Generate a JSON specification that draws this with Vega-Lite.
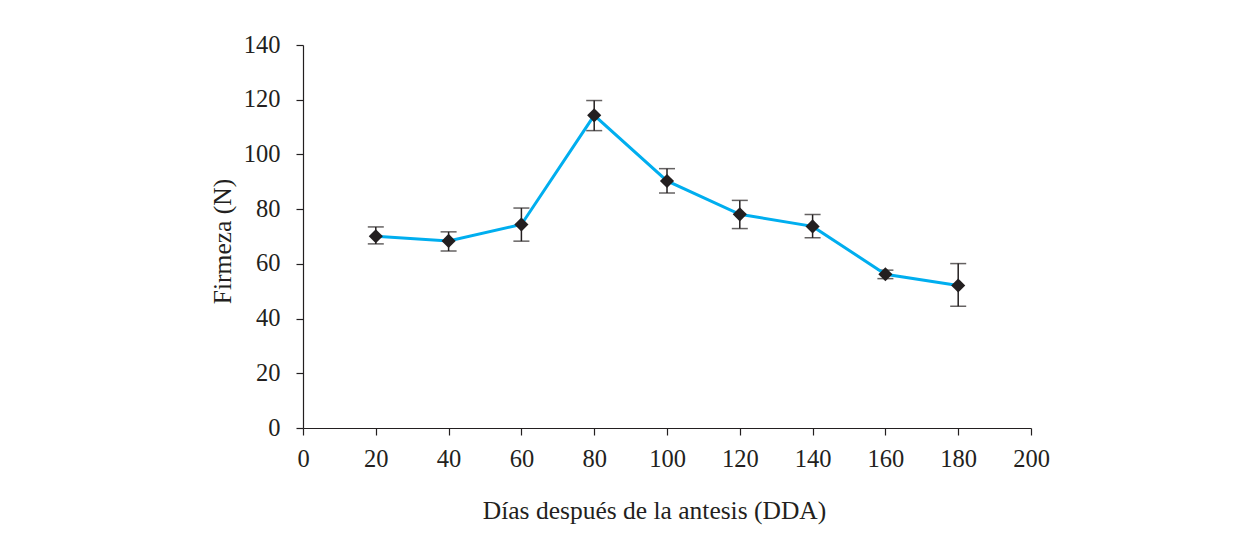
{
  "$schema": "https://vega.github.io/schema/vega-lite/v6.json",
  "width": 728,
  "height": 383,
  "autosize": {"type": "none"},
  "padding": {"left": 303, "top": 45, "right": 219, "bottom": 119},
  "background": "white",
  "config": {
    "view": {"stroke": null},
    "font": "Liberation Serif",
    "axis": {
      "grid": false,
      "domainColor": "#231f20",
      "domainWidth": 1.2,
      "tickColor": "#231f20",
      "tickWidth": 1.2,
      "tickSize": 7,
      "labelFlush": false,
      "labelOverlap": false,
      "labelFont": "Liberation Serif",
      "labelFontSize": 24.5,
      "labelColor": "#231f20",
      "titleFont": "Liberation Serif",
      "titleFontSize": 25.5,
      "titleFontWeight": "normal",
      "titleColor": "#231f20"
    }
  },
  "data": {
    "values": [
      {"dda": 20, "firmeza": 70.1, "lo": 67.3, "hi": 73.5},
      {"dda": 40, "firmeza": 68.4, "lo": 64.7, "hi": 71.7},
      {"dda": 60, "firmeza": 74.4, "lo": 68.3, "hi": 80.4},
      {"dda": 80, "firmeza": 114.3, "lo": 108.7, "hi": 119.7},
      {"dda": 100, "firmeza": 90.3, "lo": 85.9, "hi": 94.8},
      {"dda": 120, "firmeza": 78.1, "lo": 72.9, "hi": 83.2},
      {"dda": 140, "firmeza": 73.7, "lo": 69.5, "hi": 78.0},
      {"dda": 160, "firmeza": 56.2, "lo": 54.6, "hi": 57.7},
      {"dda": 180, "firmeza": 52.1, "lo": 44.5, "hi": 60.1}
    ]
  },
  "encoding": {
    "x": {
      "field": "dda",
      "type": "quantitative",
      "scale": {"domain": [0, 200], "nice": false},
      "axis": {
        "values": [0, 20, 40, 60, 80, 100, 120, 140, 160, 180, 200],
        "title": "Días después de la antesis (DDA)",
        "labelPadding": 12,
        "titleX": 351,
        "titleY": 90,
        "titleAnchor": null,
        "titleAlign": "center",
        "titleBaseline": "alphabetic"
      }
    }
  },
  "layer": [
    {
      "mark": {"type": "rule", "color": "#231f20", "strokeWidth": 1.5},
      "encoding": {
        "y": {"field": "lo", "type": "quantitative"},
        "y2": {"field": "hi"}
      }
    },
    {
      "mark": {"type": "tick", "orient": "horizontal", "color": "#231f20", "size": 16, "thickness": 1.5},
      "encoding": {"y": {"field": "hi", "type": "quantitative"}}
    },
    {
      "mark": {"type": "tick", "orient": "horizontal", "color": "#231f20", "size": 16, "thickness": 1.5},
      "encoding": {"y": {"field": "lo", "type": "quantitative"}}
    },
    {
      "mark": {"type": "line", "color": "#00aeef", "strokeWidth": 3},
      "encoding": {
        "y": {
          "field": "firmeza",
          "type": "quantitative",
          "scale": {"domain": [0, 140], "nice": false},
          "axis": {
            "values": [0, 20, 40, 60, 80, 100, 120, 140],
            "title": "Firmeza (N)",
            "labelPadding": 16,
            "titleX": -73,
            "titleY": 196,
            "titleAngle": -90,
            "titleAlign": "center",
            "titleBaseline": "alphabetic",
            "titleAnchor": null
          }
        }
      }
    },
    {
      "mark": {"type": "point", "shape": "diamond", "filled": true, "color": "#231f20", "opacity": 1, "size": 200},
      "encoding": {"y": {"field": "firmeza", "type": "quantitative"}}
    }
  ]
}
